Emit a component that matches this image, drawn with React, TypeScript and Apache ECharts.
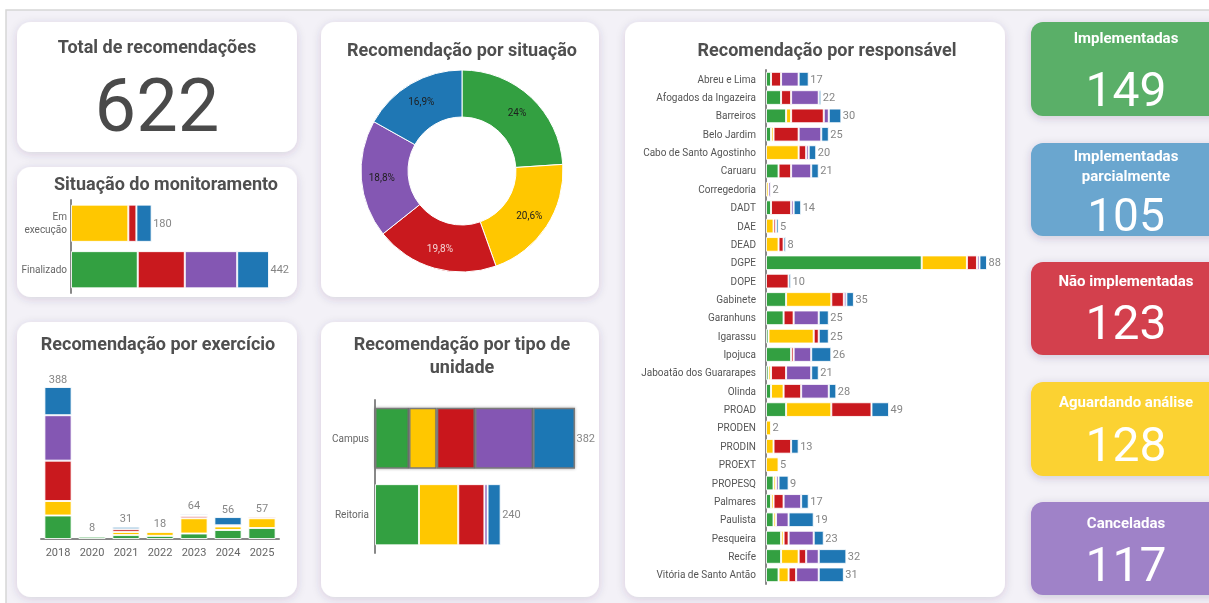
import React, { useEffect, useRef } from "react";
import * as echarts from "echarts";

const STATUS = ["Implementadas", "Aguardando análise", "Não implementadas", "Canceladas", "Implementadas parcialmente"];
const COLORS = ["#33a041", "#ffc700", "#c9191e", "#8457b3", "#1f77b4"];
const CARD_COLORS = ["#5aaf67", "#6aa6cf", "#d3414e", "#fbd232", "#9f82c8"];

// Recomendação por situação (donut)
const situacaoValues = [149, 128, 123, 117, 105];

// Situação do monitoramento
const monitorCats = ["Em execução", "Finalizado"];
const monitorGreen = [0, 149];
const monitorYellow = [128, 0];
const monitorRed = [18, 105];
const monitorPurple = [0, 117];
const monitorBlue = [34, 71];

// Recomendação por exercício
const years = ["2018", "2020", "2021", "2022", "2023", "2024", "2025"];
const yearGreen = [60, 6, 10, 8, 14, 23, 28];
const yearYellow = [37, 0, 8, 10, 39, 9, 25];
const yearRed = [103, 0, 7, 0, 6, 3, 4];
const yearPurple = [116, 0, 0, 0, 1, 0, 0];
const yearBlue = [72, 2, 6, 0, 4, 21, 0];

// Recomendação por tipo de unidade
const tipoCats = ["Campus", "Reitoria"];
const tipoGreen = [65, 84];
const tipoYellow = [53, 75];
const tipoRed = [73, 50];
const tipoPurple = [111, 6];
const tipoBlue = [80, 25];

// Recomendação por responsável
const respCats = ["Abreu e Lima", "Afogados da Ingazeira", "Barreiros", "Belo Jardim", "Cabo de Santo Agostinho", "Caruaru", "Corregedoria", "DADT", "DAE", "DEAD", "DGPE", "DOPE", "Gabinete", "Garanhuns", "Igarassu", "Ipojuca", "Jaboatão dos Guararapes", "Olinda", "PROAD", "PRODEN", "PRODIN", "PROEXT", "PROPESQ", "Palmares", "Paulista", "Pesqueira", "Recife", "Vitória de Santo Antão"];
const respGreen = [2, 6, 8, 2, 0, 5, 0, 2, 0, 0, 62, 0, 8, 7, 1, 10, 1, 2, 8, 0, 0, 0, 3, 2, 3, 6, 6, 5];
const respYellow = [0, 0, 2, 1, 13, 0, 1, 0, 3, 5, 18, 0, 18, 0, 18, 0, 1, 5, 18, 2, 3, 5, 1, 1, 1, 1, 7, 4];
const respRed = [4, 4, 13, 10, 3, 5, 0, 8, 1, 2, 4, 9, 5, 4, 2, 1, 6, 7, 16, 0, 7, 0, 0, 4, 0, 2, 3, 3];
const respPurple = [7, 11, 2, 9, 1, 8, 1, 1, 0, 0, 1, 0, 1, 10, 0, 7, 10, 11, 0, 0, 0, 0, 1, 7, 5, 10, 5, 9];
const respBlue = [4, 1, 5, 3, 3, 3, 0, 3, 1, 1, 3, 1, 3, 4, 4, 8, 3, 3, 7, 0, 3, 0, 4, 3, 10, 4, 11, 10];

const FONT = "Roboto, 'Noto Sans', sans-serif";

function totals(groups: number[][]) {
  return groups[0].map((_, i) => groups.reduce((s, g) => s + g[i], 0));
}

function stackSeries(groups: number[][], axisIdx: number, stackName: string, extraItem?: any) {
  return groups.map((vals, k) => ({
    type: "bar",
    name: STATUS[k],
    xAxisIndex: axisIdx,
    yAxisIndex: axisIdx,
    stack: stackName,
    barCategoryGap: "20%",
    itemStyle: { color: COLORS[k], borderColor: "rgba(255,255,255,0.85)", borderWidth: 1 },
    data: vals.map((v, i) => {
      const val = v === 0 ? null : v;
      if (extraItem && extraItem[i]) return { value: val, itemStyle: { color: COLORS[k], ...extraItem[i] } };
      return val;
    }),
  }));
}

function totalScatter(tot: number[], axisIdx: number, horizontal: boolean, fontSize = 11) {
  return {
    type: "scatter",
    xAxisIndex: axisIdx,
    yAxisIndex: axisIdx,
    symbolSize: 1,
    itemStyle: { color: "rgba(0,0,0,0)" },
    label: {
      show: true,
      position: horizontal ? "right" : "top",
      distance: horizontal ? 1 : 2,
      color: "#666",
      fontSize,
      fontFamily: FONT,
      formatter: (p: any) => String(horizontal ? p.value[0] : p.value[1]),
    },
    data: tot.map((t, i) => (horizontal ? [t, i] : [i, t])),
  };
}

function text(x: number, y: number, t: string, font: string, fill: string) {
  return {
    type: "text",
    x,
    y,
    style: { text: t, font, fill, align: "center", textAlign: "center", verticalAlign: "middle", textVerticalAlign: "middle" },
  };
}

function panel(x: number, y: number, w: number, h: number, fill = "#ffffff") {
  return {
    type: "rect",
    shape: { x, y, width: w, height: h, r: 14 },
    style: { fill, shadowBlur: 10, shadowColor: "rgba(60,40,90,0.16)", shadowOffsetY: 2 },
  };
}

export default function App() {
  const ref = useRef<HTMLDivElement>(null);
  useEffect(() => {
    if (!ref.current) return;
    const chart = echarts.init(ref.current, null, { renderer: "svg" });

    const monitorGroups = [monitorGreen, monitorYellow, monitorRed, monitorPurple, monitorBlue];
    const yearGroups = [yearGreen, yearYellow, yearRed, yearPurple, yearBlue];
    const tipoGroups = [tipoGreen, tipoYellow, tipoRed, tipoPurple, tipoBlue];
    const respGroups = [respGreen, respYellow, respRed, respPurple, respBlue];
    const monitorTot = totals(monitorGroups);
    const yearTot = totals(yearGroups);
    const tipoTot = totals(tipoGroups);
    const respTot = totals(respGroups);
    const total = situacaoValues.reduce((a, b) => a + b, 0);

    const titleFont = `bold 18px ${FONT}`;
    const titleColor = "#4f4f4f";
    const cardTitleFont = `bold 15px ${FONT}`;
    const cardNumFont = `400 48px ${FONT}`;

    const cardY = [22, 143, 262, 382, 502];
    const cardH = [94, 93, 93, 94, 93];

    const graphic: any[] = [
      { type: "rect", shape: { x: 6, y: 10, width: 1220, height: 610 }, style: { fill: "#f3f1f7", stroke: "#d6d6d6", lineWidth: 1.5 } },
      panel(17, 22, 280, 130),
      panel(17, 167, 280, 130),
      panel(17, 322, 280, 275),
      panel(321, 22, 278, 275),
      panel(321, 322, 278, 275),
      panel(625, 22, 380, 575),
      ...cardY.map((y, i) => ({
        type: "rect",
        shape: { x: 1031, y, width: 200, height: cardH[i], r: 12 },
        style: { fill: CARD_COLORS[i], shadowBlur: 8, shadowColor: "rgba(60,40,90,0.2)", shadowOffsetY: 2 },
      })),
      text(157, 46, "Total de recomendações", titleFont, titleColor),
      text(157, 105, String(total), `400 74px ${FONT}`, "#4a4a4a"),
      text(166, 183, "Situação do monitoramento", titleFont, titleColor),
      text(158, 343, "Recomendação por exercício", titleFont, titleColor),
      text(462, 49, "Recomendação por situação", titleFont, titleColor),
      text(462, 343, "Recomendação por tipo de", titleFont, titleColor),
      text(462, 366, "unidade", titleFont, titleColor),
      text(827, 49, "Recomendação por responsável", titleFont, titleColor),
      text(1126, 38, "Implementadas", cardTitleFont, "#ffffff"),
      text(1126, 89, String(situacaoValues[0]), cardNumFont, "#ffffff"),
      text(1126, 156, "Implementadas", cardTitleFont, "#ffffff"),
      text(1126, 176, "parcialmente", cardTitleFont, "#ffffff"),
      text(1126, 215, String(situacaoValues[4]), `400 46px ${FONT}`, "#ffffff"),
      text(1126, 281, "Não implementadas", cardTitleFont, "#ffffff"),
      text(1126, 322, String(situacaoValues[2]), cardNumFont, "#ffffff"),
      text(1126, 402, "Aguardando análise", cardTitleFont, "#ffffff"),
      text(1126, 444, String(situacaoValues[1]), cardNumFont, "#ffffff"),
      text(1126, 523, "Canceladas", cardTitleFont, "#ffffff"),
      text(1126, 564, String(situacaoValues[3]), cardNumFont, "#ffffff"),
    ];

    const axisLine = { show: true, lineStyle: { color: "#888", width: 2 } };
    const catLabel = { color: "#666", fontSize: 10, fontFamily: FONT };

    const campusBorder = [{ borderColor: "#7a7a7a", borderWidth: 1.5, shadowBlur: 3, shadowColor: "rgba(0,0,0,0.35)" }, null];

    const option: any = {
      animation: false,
      textStyle: { fontFamily: FONT },
      graphic: { elements: graphic },
      grid: [
        { left: 71, top: 200, width: 198, height: 93 },
        { left: 41, top: 387, width: 238, height: 152 },
        { left: 375, top: 400, width: 200, height: 153 },
        { left: 766, top: 70, width: 221, height: 514 },
      ],
      xAxis: [
        { gridIndex: 0, type: "value", min: 0, max: Math.max(...monitorTot), show: false },
        {
          gridIndex: 1, type: "category", data: years, axisLine, axisTick: { show: false },
          axisLabel: { color: "#666", fontSize: 11, fontFamily: FONT, margin: 8 },
        },
        { gridIndex: 2, type: "value", min: 0, max: Math.max(...tipoTot), show: false },
        { gridIndex: 3, type: "value", min: 0, max: Math.max(...respTot), show: false },
      ],
      yAxis: [
        {
          gridIndex: 0, type: "category", data: monitorCats, inverse: true, axisLine, axisTick: { show: false },
          axisLabel: { ...catLabel, margin: 4, lineHeight: 13, formatter: (v: string) => (v === "Em execução" ? "Em\nexecução" : v) },
        },
        { gridIndex: 1, type: "value", min: 0, max: Math.max(...yearTot), show: false },
        {
          gridIndex: 2, type: "category", data: tipoCats, inverse: true, axisLine, axisTick: { show: false },
          axisLabel: { ...catLabel, margin: 6 },
        },
        {
          gridIndex: 3, type: "category", data: respCats, inverse: true, axisLine, axisTick: { show: false },
          axisLabel: { color: "#555", fontSize: 10, fontFamily: FONT, margin: 10, interval: 0 },
        },
      ],
      series: [
        {
          type: "pie",
          center: [462, 171],
          radius: [54, 101],
          startAngle: 90,
          clockwise: true,
          itemStyle: { borderColor: "#ffffff", borderWidth: 1 },
          label: {
            show: true,
            position: "inside",
            fontSize: 10,
            fontFamily: FONT,
            formatter: (p: any) => (p.value / total * 100).toFixed(1).replace(/\.0$/, "").replace(".", ",") + "%",
          },
          labelLine: { show: false },
          data: situacaoValues.map((v, i) => ({
            value: v,
            name: STATUS[i],
            itemStyle: { color: COLORS[i] },
            label: { color: i === 2 ? "#f4d4d4" : "#1e1e1e" },
          })),
        },
        ...stackSeries(monitorGroups, 0, "monitor"),
        totalScatter(monitorTot, 0, true),
        ...stackSeries(yearGroups, 1, "ano"),
        totalScatter(yearTot, 1, false),
        ...stackSeries(tipoGroups, 2, "tipo", campusBorder),
        totalScatter(tipoTot, 2, true),
        ...stackSeries(respGroups, 3, "resp"),
        totalScatter(respTot, 3, true),
      ],
    };

    chart.setOption(option);
    return () => chart.dispose();
  }, []);

  return <div ref={ref} style={{ position: "fixed", left: 0, top: 0, width: 1209, height: 603 }} />;
}
